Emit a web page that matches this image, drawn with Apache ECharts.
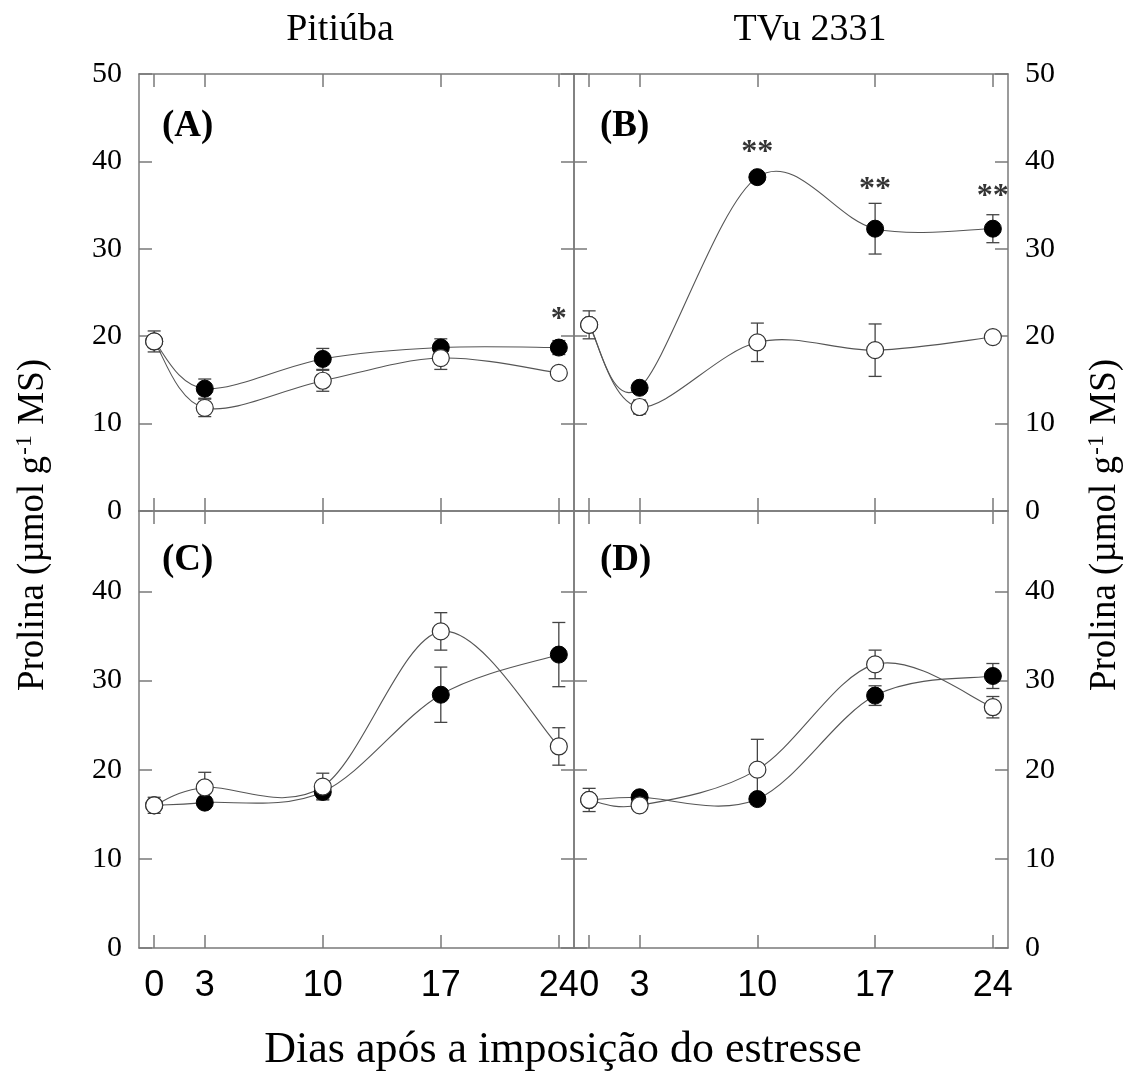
<!DOCTYPE html>
<html>
<head>
<meta charset="utf-8">
<script src="https://cdn.jsdelivr.net/npm/echarts@6/dist/echarts.min.js"></script>
<style>
  html, body { margin: 0; padding: 0; background: #fff; }
  #main { width: 1126px; height: 1073px; }
</style>
</head>
<body>
<div id="main"></div>
<script>
// dias após a imposição do estresse
var days = [0, 3, 10, 17, 24];
var yTicksTop = [0, 10, 20, 30, 40, 50];
var yTicksBottom = [0, 10, 20, 30, 40];

// (A) Pitiúba - topo
var aFilled = [19.4, 14.0, 17.4, 18.7, 18.7];
var aFilledErr = [0, 1.1, 1.2, 1.0, 0.8];
var aOpen = [19.4, 11.8, 14.9, 17.5, 15.8];
var aOpenErr = [1.2, 1.0, 1.2, 1.3, 0.4];

// (B) TVu 2331 - topo
var bFilled = [21.3, 14.1, 38.2, 32.3, 32.3];
var bFilledErr = [0, 0.6, 0.5, 2.9, 1.6];
var bOpen = [21.3, 11.9, 19.3, 18.4, 19.9];
var bOpenErr = [1.6, 0.8, 2.2, 3.0, 0.6];

// (C) Pitiúba - baixo
var cFilled = [16.0, 16.3, 17.5, 28.4, 32.9];
var cFilledErr = [0, 0.5, 0.8, 3.1, 3.6];
var cOpen = [16.0, 18.0, 18.1, 35.5, 22.6];
var cOpenErr = [0.9, 1.7, 1.5, 2.1, 2.1];

// (D) TVu 2331 - baixo
var dFilled = [16.6, 16.9, 16.7, 28.3, 30.5];
var dFilledErr = [0, 0.6, 0.6, 1.1, 1.4];
var dOpen = [16.6, 16.0, 20.0, 31.8, 27.0];
var dOpenErr = [1.3, 0.5, 3.4, 1.6, 1.2];

// asteriscos de significância [dia, posição, texto]
var aSig = [[24, 21.9, '*']];
var bSig = [[10, 41.0, '**'], [17, 36.8, '**'], [24, 35.9, '**']];
var cSig = [];
var dSig = [];

var panels = [
  {label: '(A)', filled: aFilled, filledErr: aFilledErr, open: aOpen, openErr: aOpenErr, sig: aSig},
  {label: '(B)', filled: bFilled, filledErr: bFilledErr, open: bOpen, openErr: bOpenErr, sig: bSig},
  {label: '(C)', filled: cFilled, filledErr: cFilledErr, open: cOpen, openErr: cOpenErr, sig: cSig},
  {label: '(D)', filled: dFilled, filledErr: dFilledErr, open: dOpen, openErr: dOpenErr, sig: dSig}
];

var layout = [
  {left: 139, top: 74, width: 435, height: 437, ymax: 50, row: 0, col: 0},
  {left: 574, top: 74, width: 434, height: 437, ymax: 50, row: 0, col: 1},
  {left: 139, top: 511, width: 435, height: 437, ymax: 49, row: 1, col: 0},
  {left: 574, top: 511, width: 434, height: 437, ymax: 49, row: 1, col: 1}
];

var frame = {color: '#7a7a7a', width: 1.5};
var serif = 'Liberation Serif';

function errRender(params, api) {
  var x = api.value(0);
  var lo = api.coord([x, api.value(1)]);
  var hi = api.coord([x, api.value(2)]);
  var w = 6.5;
  var st = {stroke: '#444', lineWidth: 1.3};
  return {
    type: 'group',
    children: [
      {type: 'line', shape: {x1: hi[0], y1: hi[1], x2: lo[0], y2: lo[1]}, style: st},
      {type: 'line', shape: {x1: hi[0] - w, y1: hi[1], x2: hi[0] + w, y2: hi[1]}, style: st},
      {type: 'line', shape: {x1: lo[0] - w, y1: lo[1], x2: lo[0] + w, y2: lo[1]}, style: st}
    ]
  };
}

function errData(vals, errs) {
  var out = [];
  for (var k = 0; k < days.length; k++) {
    if (errs[k] > 0) out.push([days[k], vals[k] - errs[k], vals[k] + errs[k]]);
  }
  return out;
}

function pairs(vals) {
  return days.map(function (d, k) { return [d, vals[k]]; });
}

// curva suave (catmull-rom em pixels) entre os pontos k e k+1
function curveRender(vals) {
  var n = days.length;
  return function (params, api) {
    var k = params.dataIndex;
    if (k >= n - 1) return null;
    var pt = function (j) {
      j = Math.max(0, Math.min(n - 1, j));
      return api.coord([days[j], vals[j]]);
    };
    var p0 = pt(k - 1), p1 = pt(k), p2 = pt(k + 1), p3 = pt(k + 2);
    return {
      type: 'bezierCurve',
      shape: {
        x1: p1[0], y1: p1[1], x2: p2[0], y2: p2[1],
        cpx1: p1[0] + (p2[0] - p0[0]) / 6, cpy1: p1[1] + (p2[1] - p0[1]) / 6,
        cpx2: p2[0] - (p3[0] - p1[0]) / 6, cpy2: p2[1] - (p3[1] - p1[1]) / 6
      },
      style: {stroke: '#555', lineWidth: 1.1, fill: null}
    };
  };
}

var grid = [], xAxis = [], yAxis = [], series = [], graphic = [];

layout.forEach(function (g, i) {
  grid.push({left: g.left, top: g.top, width: g.width, height: g.height, containLabel: false});

  var yt = g.row === 0 ? yTicksTop : yTicksBottom;
  ['bottom', 'top'].forEach(function (pos) {
    xAxis.push({
      gridIndex: i, type: 'value', min: -0.9, max: 24.9, position: pos,
      axisLine: {show: true, onZero: false, lineStyle: frame},
      axisTick: {show: true, inside: true, length: 13, customValues: days, lineStyle: frame},
      axisLabel: {
        show: pos === 'bottom' && g.row === 1, customValues: days,
        fontFamily: 'Liberation Sans', fontSize: 36, color: '#000', margin: 20
      },
      splitLine: {show: false}
    });
  });
  ['left', 'right'].forEach(function (pos) {
    yAxis.push({
      gridIndex: i, type: 'value', min: 0, max: g.ymax, position: pos,
      axisLine: {show: true, onZero: false, lineStyle: frame},
      axisTick: {show: true, inside: true, length: 13, customValues: yt, lineStyle: frame},
      axisLabel: {
        show: (pos === 'left' && g.col === 0) || (pos === 'right' && g.col === 1),
        customValues: yt, fontFamily: serif, fontSize: 30, color: '#000', margin: 17
      },
      splitLine: {show: false}
    });
  });

  var p = panels[i];
  var xi = i * 2, yi = i * 2;

  series.push({
    type: 'custom', xAxisIndex: xi, yAxisIndex: yi, renderItem: curveRender(p.filled),
    encode: {x: 0, y: 1}, data: pairs(p.filled), z: 1, silent: true
  });
  series.push({
    type: 'custom', xAxisIndex: xi, yAxisIndex: yi, renderItem: curveRender(p.open),
    encode: {x: 0, y: 1}, data: pairs(p.open), z: 1, silent: true
  });
  series.push({
    type: 'custom', xAxisIndex: xi, yAxisIndex: yi, renderItem: errRender,
    encode: {x: 0, y: [1, 2]}, data: errData(p.filled, p.filledErr), z: 2, silent: true
  });
  series.push({
    type: 'custom', xAxisIndex: xi, yAxisIndex: yi, renderItem: errRender,
    encode: {x: 0, y: [1, 2]}, data: errData(p.open, p.openErr), z: 2, silent: true
  });
  series.push({
    type: 'scatter', xAxisIndex: xi, yAxisIndex: yi, data: pairs(p.filled),
    symbol: 'circle', symbolSize: 17,
    itemStyle: {color: '#000', borderColor: '#000', borderWidth: 1, opacity: 1}, z: 3
  });
  series.push({
    type: 'scatter', xAxisIndex: xi, yAxisIndex: yi, data: pairs(p.open),
    symbol: 'circle', symbolSize: 17,
    itemStyle: {color: '#fff', borderColor: '#333', borderWidth: 1.2, opacity: 1}, z: 4
  });
  if (p.sig.length) {
    series.push({
      type: 'scatter', xAxisIndex: xi, yAxisIndex: yi, symbolSize: 0,
      data: p.sig.map(function (s) { return {value: [s[0], s[1]], name: s[2]}; }),
      label: {show: true, position: 'inside', formatter: '{b}', fontFamily: serif,
        fontSize: 32, fontWeight: 'bold', color: '#000'},
      z: 5
    });
  }

  graphic.push({
    type: 'text', left: g.left + (g.col === 0 ? 23 : 26), top: g.top + (g.row === 0 ? 34 : 31),
    style: {text: p.label, fontFamily: serif, fontSize: 37, fontWeight: 'bold', fill: '#000'}
  });
});

// títulos das cultivares
graphic.push({type: 'text', x: 340, y: 30,
  style: {text: 'Pitiúba', fontFamily: serif, fontSize: 38, fill: '#000', align: 'center', verticalAlign: 'middle'}});
graphic.push({type: 'text', x: 810, y: 30,
  style: {text: 'TVu 2331', fontFamily: serif, fontSize: 38, fill: '#000', align: 'center', verticalAlign: 'middle'}});

// eixo x
graphic.push({type: 'text', x: 563, y: 1050,
  style: {text: 'Dias após a imposição do estresse', fontFamily: serif, fontSize: 44, fill: '#000',
    align: 'center', verticalAlign: 'middle'}});

// eixos y (esquerda e direita)
var yName = {
  text: '{a|Prolina (µmol g}{s|-1}{a| MS)}',
  rich: {
    a: {fontFamily: serif, fontSize: 37, fill: '#000'},
    s: {fontFamily: serif, fontSize: 24, fill: '#000', verticalAlign: 'top', padding: [0, 1, 17, 1]}
  },
  align: 'center', verticalAlign: 'middle'
};
graphic.push({type: 'text', x: 33, y: 525, rotation: Math.PI / 2, style: yName});
graphic.push({type: 'text', x: 1105, y: 525, rotation: Math.PI / 2, style: yName});

var option = {
  backgroundColor: '#fff',
  animation: false,
  grid: grid,
  xAxis: xAxis,
  yAxis: yAxis,
  series: series,
  graphic: graphic
};

var chart = echarts.init(document.getElementById('main'));
chart.setOption(option);
</script>
</body>
</html>
